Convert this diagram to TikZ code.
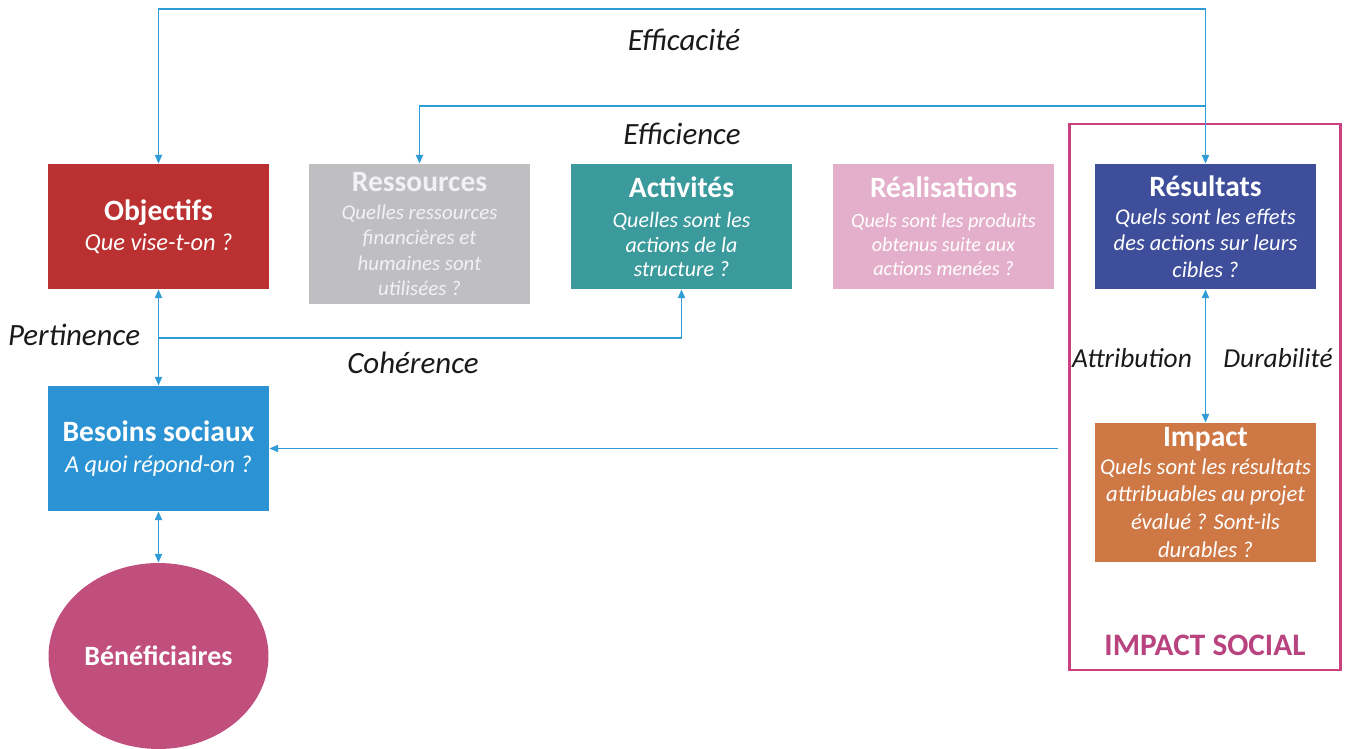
\documentclass[tikz,border=0pt]{standalone}
\usepackage{fontspec}
\setmainfont{Carlito}
\usetikzlibrary{shapes.geometric,arrows.meta}
\definecolor{cobj}{RGB}{187,49,49}
\definecolor{cress}{RGB}{191,191,193}
\definecolor{cact}{RGB}{59,154,156}
\definecolor{creal}{RGB}{227,175,202}
\definecolor{cres}{RGB}{62,78,155}
\definecolor{cbes}{RGB}{43,147,211}
\definecolor{cimp}{RGB}{206,120,70}
\definecolor{cben}{RGB}{192,79,126}
\definecolor{cframe}{RGB}{201,66,127}
\definecolor{csoc}{RGB}{184,67,127}
\definecolor{cline}{RGB}{47,155,215}
\definecolor{clab}{RGB}{26,26,26}
\definecolor{cresstext}{RGB}{242,242,244}
\tikzset{
  box/.style={rectangle, minimum width=4.42cm, minimum height=2.5cm, inner sep=2pt, align=center, text=white},
  conn/.style={draw=cline, line width=1.1pt},
  tip/.style={-{Triangle[length=5pt,width=4pt]}},
  tips/.style={{Triangle[length=5pt,width=4pt]}-{Triangle[length=5pt,width=4pt]}},
  lab/.style={text=clab, font=\itshape\fontsize{17.6}{20}\selectfont},
  labs/.style={text=clab, font=\itshape\fontsize{15.6}{18}\selectfont},
}
\newcommand{\ttl}[1]{{\upshape\bfseries\fontsize{16.8}{19}\selectfont #1}}
\newcommand{\subf}[2]{\itshape\fontsize{#1}{#2}\selectfont}
\begin{document}
\begin{tikzpicture}[x=0.02cm,y=-0.02cm]
\useasboundingbox (0,0) rectangle (1349,749);
% boxes
\node[box, fill=cobj, font=\subf{13.9}{17}] (obj) at (158.5,226.5) {\ttl{Objectifs}\\Que vise-t-on ?};
\node[box, fill=cress, minimum height=2.8cm, text=cresstext, font=\subf{11.9}{14.3}] (ress) at (419.5,234) {\ttl{Ressources}\\[1.7pt]Quelles ressources\\financières et\\humaines sont\\utilisées ?};
\node[box, fill=cact, font=\subf{12.5}{13.9}] (act) at (681.5,226.5) {\ttl{Activités}\\[3.5pt]Quelles sont les\\actions de la\\structure ?};
\node[box, fill=creal, font=\subf{11.5}{13.6}] (real) at (943.5,226.5) {\ttl{Réalisations}\\[3.4pt]Quels sont les produits\\obtenus suite aux\\actions menées ?};
\node[box, fill=cres, font=\subf{12.8}{15.1}] (res) at (1205.5,226.5) {\ttl{Résultats}\\[0.8pt]Quels sont les effets\\des actions sur leurs\\cibles ?};
\node[box, fill=cbes, font=\subf{13.8}{18}] (bes) at (158.5,448.5) {\ttl{Besoins sociaux}\\A quoi répond-on ?};
\node[box, fill=cimp, minimum width=4.44cm, minimum height=2.78cm, font=\subf{12.9}{15.7}] (imp) at (1205.5,492.5) {\ttl{Impact}\\Quels sont les résultats\\attribuables au projet\\évalué ? Sont-ils\\durables ?};
\node[ellipse, fill=cben, minimum width=4.4cm, minimum height=3.72cm, inner sep=0pt, text=white, font=\bfseries\fontsize{15.9}{18}\selectfont] (ben) at (158.5,656) {Bénéficiaires};
% frame
\node[draw=cframe, line width=1.4pt, minimum width=5.42cm, minimum height=10.92cm, inner sep=0pt] (frame) at (1205,397) {};
\node[text=csoc, font=\bfseries\fontsize{17.8}{20}\selectfont] (soc) at (1205,645) {IMPACT SOCIAL};
% coordinates
\coordinate (t1) at (158.5,9);
\coordinate (t2) at (1205.5,9);
\coordinate (e1) at (1205.5,106);
\coordinate (c1) at (158.5,338);
\coordinate (i1) at (1058,448.5);
% connectors
\draw[conn, tips] (obj.north) -- (t1) -- (t2) -- (res.north);
\draw[conn, tip] (e1) -| (ress.north);
\draw[conn, tips] (obj.south) -- (bes.north);
\draw[conn, tip] (c1) -| (act.south);
\draw[conn, tips] (res.south) -- (imp.north);
\draw[conn, tip] (i1) -- (bes.east);
\draw[conn, tips] (bes.south) -- (ben.north);
% labels
\node[lab] (l1) at (684,40) {Efficacité};
\node[lab] (l2) at (682,134) {Efficience};
\node[lab] (l3) at (74,335) {Pertinence};
\node[lab] (l4) at (413,363) {Cohérence};
\node[labs] (l5) at (1132,358) {Attribution};
\node[labs] (l6) at (1278,358) {Durabilité};
\end{tikzpicture}
\end{document}
